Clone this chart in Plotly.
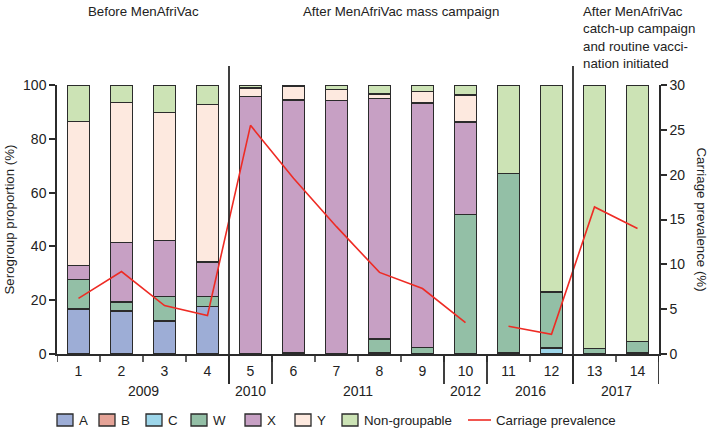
import plotly.graph_objects as go

periods = list(range(1, 15))
period_labels = [str(p) for p in periods]
years = ["2009"] * 4 + ["2010"] + ["2011"] * 4 + ["2012"] + ["2016"] * 2 + ["2017"] * 2

sero_A = [16.7, 16.0, 12.3, 17.7, 0, 0, 0, 0, 0, 0, 0, 0, 0, 0]
sero_B = [0, 0, 0, 0, 0, 0.5, 0, 0.5, 0, 0, 0.5, 0, 0, 0]
sero_C = [0, 0, 0, 0, 0, 0, 0, 0, 0, 0, 0, 2.2, 0, 0.5]
sero_W = [11.1, 3.3, 9.0, 3.6, 0, 0, 0, 5.1, 2.4, 51.9, 66.7, 20.8, 2.1, 4.2]
sero_X = [5.2, 22.2, 20.8, 12.9, 95.7, 93.9, 94.2, 89.3, 90.9, 34.4, 0, 0, 0, 0]
sero_Y = [53.5, 51.9, 47.8, 58.5, 3.2, 5.0, 4.2, 1.8, 4.3, 10.0, 0, 0, 0, 0]
sero_NG = [13.5, 6.6, 10.1, 7.3, 1.1, 0.6, 1.6, 3.3, 2.4, 3.7, 32.8, 77.0, 97.9, 95.3]
carriage = [6.2, 9.2, 5.4, 4.3, 25.5, 19.6, 14.2, 9.1, 7.3, 3.5, 3.1, 2.2, 16.4, 14.0]
line_break_after = 10  # no line between period 10 and 11

series = [
    ("A", sero_A, "#9dadd6"),
    ("B", sero_B, "#e5a397"),
    ("C", sero_C, "#9dd6ea"),
    ("W", sero_W, "#93bfa6"),
    ("X", sero_X, "#c7a0c4"),
    ("Y", sero_Y, "#fde9df"),
    ("Non-groupable", sero_NG, "#cce3b5"),
]
LINE_COLOR = "#ee2b24"

FONT = "Liberation Sans, Arial, sans-serif"
DARK = "#2b2b2b"
TXT = "#222"
TS = 13.3  # text size for words

W, H = 709, 428
ML, MR, MT, MB = 57, 50, 85, 74
PW, PH = W - ML - MR, H - MT - MB


def px_x(px):
    return (px - ML) / PW


def px_y(py):
    return (H - MB - py) / PH


fig = go.Figure()
for name, vals, col in series:
    fig.add_trace(go.Bar(
        x=periods, y=vals, name=name, showlegend=False,
        marker=dict(color=col, line=dict(color=DARK, width=1.3)),
    ))

carr_x = periods[:line_break_after] + [None] + periods[line_break_after:]
carr_y = carriage[:line_break_after] + [None] + carriage[line_break_after:]
fig.add_trace(go.Scatter(
    x=carr_x, y=carr_y, name="Carriage prevalence", yaxis="y2", showlegend=False,
    mode="lines", line=dict(color=LINE_COLOR, width=1.6), connectgaps=False,
))

shapes = []
# category boundary ticks
for i in range(len(periods) + 1):
    xb = periods[0] - 0.5 + i
    shapes.append(dict(type="line", xref="x", yref="paper", x0=xb, x1=xb,
                       y0=0, y1=px_y(362), line=dict(color=DARK, width=1.5)))
# year group separators
bounds = [i for i in range(1, len(years)) if years[i] != years[i - 1]] + [len(years)]
for b in bounds:
    xb = periods[0] - 0.5 + b
    shapes.append(dict(type="line", xref="x", yref="paper", x0=xb, x1=xb,
                       y0=0, y1=px_y(384), line=dict(color=DARK, width=1.8)))
# phase separators (full height)
phase_bounds = [4, 12]
for b in phase_bounds:
    xb = periods[0] - 0.5 + b
    shapes.append(dict(type="line", xref="x", yref="paper", x0=xb, x1=xb,
                       y0=px_y(384), y1=px_y(66), line=dict(color=DARK, width=1.8)))

annotations = []
# year labels
start = 0
for b in bounds:
    xc = (periods[start] + periods[b - 1]) / 2
    annotations.append(dict(x=xc, y=px_y(391), xref="x", yref="paper", text=years[start],
                            showarrow=False, xanchor="center", yanchor="middle",
                            font=dict(size=14, color=TXT, family=FONT)))
    start = b
# headers
annotations += [
    dict(x=2.5, y=px_y(12), xref="x", yref="paper", text="Before MenAfriVac", showarrow=False,
         xanchor="center", yanchor="middle", font=dict(size=TS, color=TXT, family=FONT)),
    dict(x=8.5, y=px_y(12), xref="x", yref="paper", text="After MenAfriVac mass campaign", showarrow=False,
         xanchor="center", yanchor="middle", font=dict(size=TS, color=TXT, family=FONT)),
    dict(x=12.5, y=px_y(2), xref="x", yref="paper", xanchor="left", xshift=8, yanchor="top", align="left",
         text="After MenAfriVac<br>catch-up campaign<br>and routine vacci-<br>nation initiated",
         showarrow=False, font=dict(size=TS, color=TXT, family=FONT)),
    dict(x=px_x(9), y=0.5, xref="paper", yref="paper", text="Serogroup proportion (%)", textangle=-90,
         xanchor="center", yanchor="middle",
         showarrow=False, font=dict(size=TS, color=TXT, family=FONT)),
    dict(x=px_x(701), y=0.5, xref="paper", yref="paper", text="Carriage prevalence (%)", textangle=90,
         xanchor="center", yanchor="middle",
         showarrow=False, font=dict(size=TS, color=TXT, family=FONT)),
]

# manual legend (one row)
legend_swatch_left = [57, 99, 146, 191, 245, 295, 342]
leg_y = px_y(420)
sw_h = 12 / PH
for (name, _, col), lx in zip(series, legend_swatch_left):
    shapes.append(dict(type="rect", xref="paper", yref="paper",
                       x0=px_x(lx), x1=px_x(lx + 16), y0=leg_y - sw_h / 2, y1=leg_y + sw_h / 2,
                       fillcolor=col, line=dict(color=DARK, width=1.3)))
    annotations.append(dict(x=px_x(lx + 20), y=leg_y, xref="paper", yref="paper", text=name,
                            xanchor="left", yanchor="middle", showarrow=False,
                            font=dict(size=TS, color=TXT, family=FONT)))
shapes.append(dict(type="line", xref="paper", yref="paper", x0=px_x(468), x1=px_x(491),
                   y0=leg_y, y1=leg_y, line=dict(color=LINE_COLOR, width=1.6)))
annotations.append(dict(x=px_x(494), y=leg_y, xref="paper", yref="paper", text="Carriage prevalence",
                        xanchor="left", yanchor="middle", showarrow=False,
                        font=dict(size=TS, color=TXT, family=FONT)))

fig.update_layout(
    width=W, height=H,
    margin=dict(l=ML, r=MR, t=MT, b=MB, autoexpand=False),
    plot_bgcolor="white", paper_bgcolor="white",
    barmode="stack", bargap=0.49, showlegend=False,
    font=dict(family=FONT, size=14, color=TXT),
    xaxis=dict(range=[0.5, 14.5], tickvals=periods, ticktext=period_labels,
               ticks="outside", ticklen=3, tickcolor="rgba(0,0,0,0)",
               showline=True, linecolor=DARK, linewidth=1.5, showgrid=False, zeroline=False,
               tickfont=dict(size=14)),
    yaxis=dict(range=[0, 100], tickvals=[0, 20, 40, 60, 80, 100], ticks="outside", ticklen=6,
               tickcolor=DARK, tickwidth=1.5, showline=True, linecolor=DARK, linewidth=1.5,
               showgrid=False, zeroline=False, tickfont=dict(size=14)),
    yaxis2=dict(range=[0, 30], tickvals=[0, 5, 10, 15, 20, 25, 30], overlaying="y", side="right",
                ticks="outside", ticklen=6, tickcolor=DARK, tickwidth=1.5, showline=True,
                linecolor=DARK, linewidth=1.5, showgrid=False, zeroline=False, tickfont=dict(size=14)),
    shapes=shapes, annotations=annotations,
)

fig.write_html("out.html", config={"displayModeBar": False},
               post_script="document.body.style.margin='0px';document.body.style.overflow='hidden';")
